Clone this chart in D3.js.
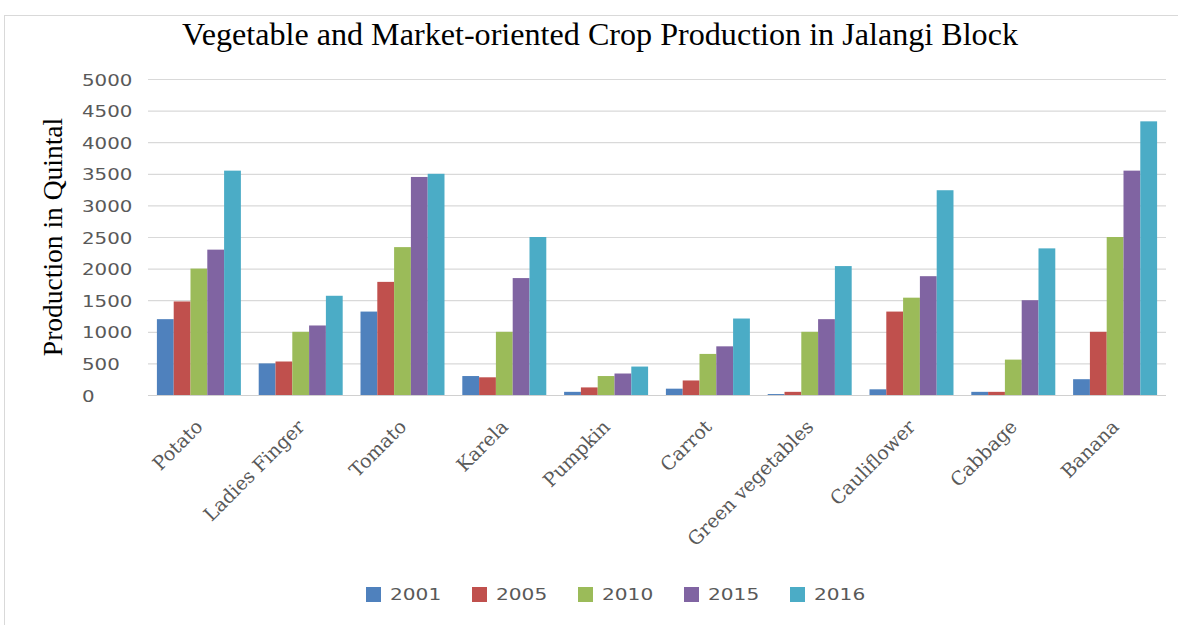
<!DOCTYPE html>
<html><head><meta charset="utf-8">
<script src="https://cdn.jsdelivr.net/npm/d3@7"></script>
<style>body{margin:0;background:#fff}svg{display:block}</style>
</head><body>
<svg id="chart" width="1178" height="625"></svg>
<script>
const categories = ["Potato","Ladies Finger","Tomato","Karela","Pumpkin","Carrot","Green vegetables","Cauliflower","Cabbage","Banana"];
const seriesNames = ["2001","2005","2010","2015","2016"];
const v2001 = [1200, 500, 1320, 300, 50, 100, 15, 90, 50, 250];
const v2005 = [1480, 530, 1790, 280, 120, 230, 50, 1320, 50, 1000];
const v2010 = [2000, 1000, 2340, 1000, 300, 650, 1000, 1540, 560, 2500];
const v2015 = [2300, 1100, 3450, 1850, 340, 770, 1200, 1880, 1500, 3550];
const v2016 = [3550, 1570, 3500, 2500, 450, 1210, 2040, 3240, 2320, 4330];
const yTicks = [0,500,1000,1500,2000,2500,3000,3500,4000,4500,5000];
const colors = ["#4F81BD","#C0504D","#9BBB59","#8064A2","#4BACC6"];

const series = [v2001,v2005,v2010,v2015,v2016];
const svg = d3.select("#chart");

svg.append("rect").attr("x",4.5).attr("y",15.5).attr("width",1200).attr("height",700)
  .attr("fill","#fff").attr("stroke","#d9d9d9");

const x0 = d3.scaleBand().domain(categories).range([148,1166]).paddingInner(0.175).paddingOuter(0.0875);
const x1 = d3.scaleBand().domain(seriesNames).range([0,x0.bandwidth()]);
const y = d3.scaleLinear().domain([0,5000]).range([395,79]);

// gridlines
svg.append("g").selectAll("line").data(yTicks.filter(t=>t>0)).join("line")
  .attr("x1",148).attr("x2",1166).attr("y1",d=>y(d)+0.5).attr("y2",d=>y(d)+0.5)
  .attr("stroke","#d9d9d9").attr("stroke-width",1.2);

// y tick labels
svg.append("g").selectAll("text").data(yTicks).join("text")
  .attr("transform",d=>`translate(82,${y(d)+2}) scale(1.2,1)`)
  .attr("dominant-baseline","middle")
  .attr("font-family","'DejaVu Sans', sans-serif").attr("font-size",16.5)
  .attr("fill","#595959").text(d=>d);

// bars
const g = svg.append("g");
categories.forEach((c,i)=>{
  g.selectAll(null).data(series.map((s,j)=>({k:seriesNames[j],v:s[i],col:colors[j]}))).join("rect")
    .attr("x",d=>x0(c)+x1(d.k)).attr("width",x1.bandwidth())
    .attr("y",d=>y(d.v)).attr("height",d=>y(0)-y(d.v))
    .attr("fill",d=>d.col);
});

// baseline
svg.append("line").attr("x1",148).attr("x2",1166).attr("y1",395.5).attr("y2",395.5)
  .attr("stroke","#d0d0d0").attr("stroke-width",1.2);

// category labels
svg.append("g").selectAll("text").data(categories).join("text")
  .attr("transform",d=>`translate(${x0(d)+x0.bandwidth()/2+5},${428}) rotate(-45)`)
  .attr("text-anchor","end")
  .attr("font-family","'DejaVu Serif', serif").attr("font-size",19)
  .attr("fill","#595959").text(d=>d);

// title
svg.append("text").attr("x",600).attr("y",45).attr("text-anchor","middle")
  .attr("font-family","'Liberation Serif', serif").attr("font-size",31)
  .attr("textLength",836).attr("lengthAdjust","spacingAndGlyphs")
  .attr("fill","#000").text("Vegetable and Market-oriented Crop Production in Jalangi Block");

// y axis title
svg.append("text").attr("transform","translate(62,237) rotate(-90)").attr("text-anchor","middle")
  .attr("font-family","'Liberation Serif', serif").attr("font-size",27.5)
  .attr("fill","#000").text("Production in Quintal");

// legend
const leg = svg.append("g").selectAll("g").data(seriesNames).join("g")
  .attr("transform",(d,i)=>`translate(${366+i*106},587)`);
leg.append("rect").attr("width",15).attr("height",15).attr("fill",(d,i)=>colors[i]);
leg.append("text").attr("transform","translate(24,8.5) scale(1.22,1)").attr("dominant-baseline","middle")
  .attr("font-family","'DejaVu Sans', sans-serif").attr("font-size",16.5)
  .attr("fill","#595959").text(d=>d);
</script>
</body></html>
